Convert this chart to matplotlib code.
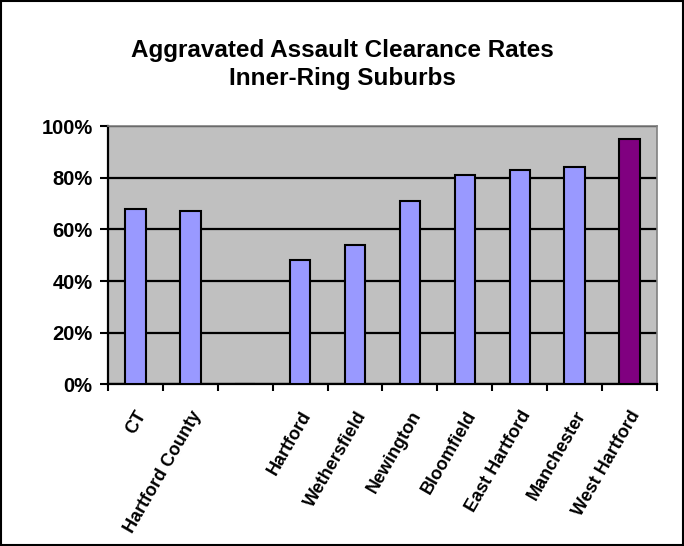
import numpy as np
import matplotlib.pyplot as plt
from matplotlib.patches import Rectangle
from matplotlib.ticker import FuncFormatter

plt.rcParams["font.family"] = ["Liberation Sans", "DejaVu Sans"]
plt.rcParams["font.weight"] = "bold"

towns = ["CT", "Hartford County", "", "Hartford", "Wethersfield", "Newington",
         "Bloomfield", "East Hartford", "Manchester", "West Hartford"]
rates = [68, 67, 0, 48, 54, 71, 81, 83, 84, 95]
colors = ["#9999FF"] * 9 + ["#800080"]

fig = plt.figure(figsize=(6.84, 5.46), dpi=100)
ax = fig.add_axes([0.1579, 0.2958, 0.8026, 0.4734])
ax.set_facecolor("#C0C0C0")

x = np.arange(len(towns))
ax.set_axisbelow(True)
ax.yaxis.grid(True, color="black", linewidth=1.6)
ax.bar(x, rates, width=0.37, color=colors, edgecolor="black", linewidth=1.5, zorder=3)

ax.set_xlim(-0.5, len(towns) - 0.5)
ax.set_ylim(0, 100)
ax.set_yticks(range(0, 101, 20))
ax.yaxis.set_major_formatter(FuncFormatter(lambda v, p: f"{v:.0f}%"))
ax.tick_params(axis="y", direction="out", length=6, width=1.5, labelsize=14.5, pad=5)

ax.set_xticks(x)
ax.set_xticklabels(towns, rotation=60, ha="right", va="top",
                   rotation_mode="anchor", fontsize=13, fontweight="bold")
ax.tick_params(axis="x", which="major", length=0, pad=17)
ax.set_xticks(np.arange(-0.5, len(towns)), minor=True)
ax.tick_params(axis="x", which="minor", direction="out", length=5, width=1.5)

for s in ["left", "bottom"]:
    ax.spines[s].set_color("black")
    ax.spines[s].set_linewidth(1.6)
for s in ["top", "right"]:
    ax.spines[s].set_color("#808080")
    ax.spines[s].set_linewidth(1.2)

fig.text(0.5, 0.8947, "Aggravated Assault Clearance Rates", ha="center", va="baseline",
         fontsize=17.5, fontweight="bold")
fig.text(0.5, 0.8443, "Inner-Ring Suburbs", ha="center", va="baseline",
         fontsize=17.5, fontweight="bold")

fig.patches.append(Rectangle((0.002, 0.002), 0.996, 0.996, transform=fig.transFigure,
                             fill=False, edgecolor="black", linewidth=1.5))

fig.savefig("out.png", dpi=100)
